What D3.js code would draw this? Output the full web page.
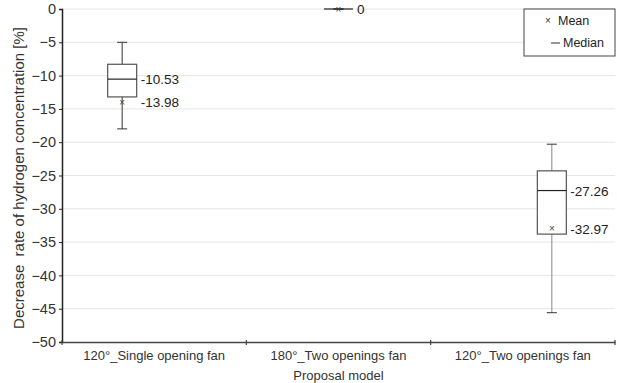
<!DOCTYPE html>
<html>
<head>
<meta charset="utf-8">
<script src="https://cdn.jsdelivr.net/npm/d3@7"></script>
<style>
  body { margin: 0; background: #fff; }
  svg { font-family: "Liberation Sans", Arial, sans-serif; }
</style>
</head>
<body>
<svg id="chart" width="617" height="383"></svg>
<script>
// data
const categories = ["120°_Single opening fan", "180°_Two openings fan", "120°_Two openings fan"];
const whiskerHigh = [-5.0, 0, -20.3];
const q3 = [-8.3, 0, -24.3];
const medians = [-10.53, 0, -27.26];
const q1 = [-13.2, 0, -33.8];
const whiskerLow = [-18.0, 0, -45.6];
const means = [-13.98, 0, -32.97];
const yTicks = [0, -5, -10, -15, -20, -25, -30, -35, -40, -45, -50];

const svg = d3.select("#chart");
const margin = { top: 9, right: 2, bottom: 41, left: 62 };
const width = 617 - margin.left - margin.right;
const height = 383 - margin.top - margin.bottom;
const g = svg.append("g").attr("transform", `translate(${margin.left},${margin.top})`);

const x = d3.scaleBand().domain(categories).range([0, width]);
const y = d3.scaleLinear().domain([-50, 0]).range([height, 0]);

// boxes in the original sit a bit off the band centres
const shift = [-32, 0, 29];
const boxW = 29;

// grid
g.append("g").selectAll("line").data(yTicks.filter(d => d > -50)).enter()
  .append("line")
  .attr("x1", 0).attr("x2", width)
  .attr("y1", d => y(d)).attr("y2", d => y(d))
  .attr("stroke", "#e6e6e6").attr("stroke-width", 1);

// y axis
const yAxis = g.append("g")
  .call(d3.axisLeft(y).tickValues(yTicks).tickSize(3).tickPadding(3)
    .tickFormat(d => d === 0 ? "0" : "\u2212" + Math.abs(d)));
yAxis.select(".domain").attr("stroke", "#222").attr("stroke-width", 1.5);
yAxis.selectAll(".tick line").attr("stroke", "#222");
yAxis.selectAll(".tick text").attr("font-size", 14.5).attr("fill", "#333")
  .attr("font-family", "Liberation Sans, Arial, sans-serif");

// x axis
const xAxis = g.append("g").attr("transform", `translate(0,${height})`)
  .call(d3.axisBottom(x).tickSize(0).tickPadding(9));
xAxis.select(".domain").attr("stroke", "#444").attr("stroke-width", 1.5);
xAxis.selectAll(".tick text").attr("font-size", 13).attr("fill", "#333")
  .attr("font-family", "Liberation Sans, Arial, sans-serif");
g.append("g").selectAll("line").data([0, 1, 2, 3]).enter()
  .append("line")
  .attr("x1", i => i * x.step()).attr("x2", i => i * x.step())
  .attr("y1", height - 2).attr("y2", height + 3)
  .attr("stroke", "#444").attr("stroke-width", 1.2);

// axis titles
svg.append("text")
  .attr("transform", "translate(24,178) rotate(-90)")
  .attr("text-anchor", "middle")
  .attr("font-size", 15).attr("fill", "#333")
  .attr("xml:space", "preserve")
  .text("Decrease  rate of hydrogen concentration [%]");
svg.append("text")
  .attr("x", margin.left + width / 2).attr("y", 380)
  .attr("text-anchor", "middle")
  .attr("font-size", 13).attr("fill", "#333")
  .text("Proposal model");

// boxes
const whiskerColor = ["#333", "#333", "#888"];
categories.forEach((c, i) => {
  const cx = x(c) + x.bandwidth() / 2 + shift[i];
  const bx = g.append("g");
  bx.append("line")
    .attr("x1", cx).attr("x2", cx)
    .attr("y1", y(whiskerHigh[i])).attr("y2", y(whiskerLow[i]))
    .attr("stroke", whiskerColor[i]).attr("stroke-width", 1);
  [whiskerHigh[i], whiskerLow[i]].forEach(v => {
    bx.append("line")
      .attr("x1", cx - 5).attr("x2", cx + 5)
      .attr("y1", y(v)).attr("y2", y(v))
      .attr("stroke", "#333").attr("stroke-width", 1);
  });
  if (q3[i] !== q1[i]) {
    bx.append("rect")
      .attr("x", cx - boxW / 2).attr("y", y(q3[i]))
      .attr("width", boxW).attr("height", y(q1[i]) - y(q3[i]))
      .attr("fill", "#fff").attr("stroke", "#555").attr("stroke-width", 1.2);
  }
  bx.append("line")
    .attr("x1", cx - boxW / 2).attr("x2", cx + boxW / 2)
    .attr("y1", y(medians[i])).attr("y2", y(medians[i]))
    .attr("stroke", "#222").attr("stroke-width", 1.2);
  // mean marker
  bx.append("text")
    .attr("x", cx).attr("y", y(means[i]) + 3.5)
    .attr("text-anchor", "middle").attr("font-size", 10).attr("fill", "#444")
    .text("×");
  // labels
  const lx = cx + boxW / 2 + 4;
  if (medians[i] === means[i]) {
    bx.append("text").attr("x", lx).attr("y", y(medians[i]) + 5)
      .attr("font-size", 13.5).attr("fill", "#222").text(d3.format("")(medians[i]));
  } else {
    bx.append("text").attr("x", lx).attr("y", y(medians[i]) + 5)
      .attr("font-size", 13.5).attr("fill", "#222").text(medians[i].toFixed(2));
    bx.append("text").attr("x", lx).attr("y", y(means[i]) + 5)
      .attr("font-size", 13.5).attr("fill", "#222").text(means[i].toFixed(2));
  }
});

// legend
const lg = svg.append("g").attr("transform", "translate(524,9)");
lg.append("rect").attr("width", 91).attr("height", 47)
  .attr("fill", "#fff").attr("stroke", "#444").attr("stroke-width", 1);
lg.append("text").attr("x", 24).attr("y", 15).attr("text-anchor", "middle")
  .attr("font-size", 10).attr("fill", "#333").text("×");
lg.append("text").attr("x", 34).attr("y", 16)
  .attr("font-size", 12.5).attr("fill", "#222").text("Mean");
lg.append("line").attr("x1", 27).attr("x2", 36).attr("y1", 34).attr("y2", 34)
  .attr("stroke", "#333").attr("stroke-width", 1);
lg.append("text").attr("x", 39).attr("y", 38)
  .attr("font-size", 12.5).attr("fill", "#222").text("Median");
</script>
</body>
</html>
